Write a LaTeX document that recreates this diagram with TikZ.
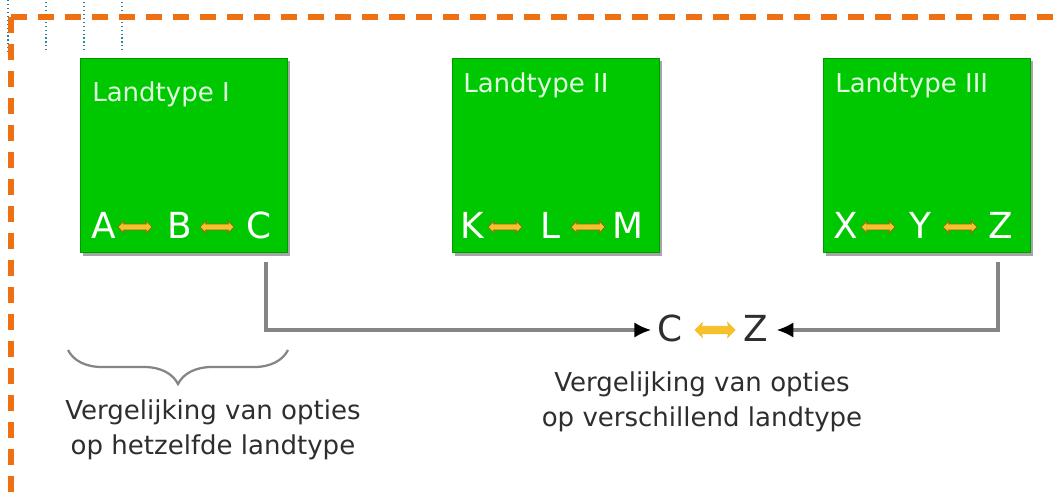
\documentclass[tikz,border=0pt]{standalone}
\usepackage{fontspec}
\setmainfont{DejaVu Sans}
\usetikzlibrary{shapes.arrows,decorations.pathreplacing,calc,arrows.meta}

\definecolor{landgreen}{HTML}{00C800}
\definecolor{landedge}{HTML}{009A00}
\definecolor{frameorange}{HTML}{EE7013}
\definecolor{guideteal}{HTML}{2A8394}
\definecolor{swapfill}{HTML}{F6C22C}
\definecolor{swapedge}{HTML}{8A6A12}
\definecolor{linkgray}{HTML}{858585}
\definecolor{inkgray}{HTML}{2E2E2E}

\tikzset{
  landbox/.style={draw=landedge, line width=0.7pt, fill=landgreen,
    minimum width=5.175cm, minimum height=4.85cm, inner sep=0pt},
  landshadow/.style={fill=black!35},
  boxtitle/.style={text=white!88!green, font=\fontsize{18.5}{20}\selectfont, inner sep=0pt},
  option/.style={text=white, font=\fontsize{25.5}{27}\selectfont, inner sep=0pt},
  bigoption/.style={text=inkgray, font=\fontsize{25.5}{27}\selectfont, inner sep=0pt},
  swap/.style={shape=double arrow, fill=swapfill, draw=swapedge, line width=0.5pt,
    minimum height=0.85cm, double arrow head extend=0.085cm,
    double arrow head indent=0.02cm,
    inner xsep=0pt, inner ysep=0.065cm},
  bigswap/.style={swap, minimum height=1.0cm, double arrow head extend=0.09cm,
    inner ysep=0.085cm, draw=swapfill!85!orange},
  link/.style={draw=linkgray, line width=2.2pt, -{Latex[length=12pt,width=11pt,black]}},
  caption/.style={text=inkgray, align=center, font=\fontsize{18.5}{24.9}\selectfont, inner sep=0pt},
  frame/.style={draw=frameorange, line width=3.6pt, dash pattern=on 11.4pt off 7.8pt},
  guide/.style={draw=guideteal, line width=0.8pt, dotted},
}

\begin{document}
\begin{tikzpicture}[x=0.025cm, y=-0.025cm]
  \useasboundingbox (0,0) rectangle (1059,494);

  % dotted guide lines at the top left
  \draw[guide] (8,0) -- (8,52);
  \foreach \gx in {46,84,122} \draw[guide] (\gx,2) -- (\gx,50);

  % orange dashed frame
  \draw[frame] (11,17) -- (1070,17);
  \draw[frame] (11,17) -- (11,500);

  % shadows of the land boxes
  \foreach \bx in {80,452,823}
    \fill[landshadow] (\bx+3,61) rectangle (\bx+210,256);

  % the three land boxes
  \node[landbox, anchor=north west] (b1) at (80,58) {};
  \node[landbox, anchor=north west] (b2) at (452,58) {};
  \node[landbox, anchor=north west] (b3) at (823,58) {};

  \node[boxtitle, anchor=base west] (t1) at (92,101) {Landtype I};
  \node[boxtitle, anchor=base west] (t2) at (463,92) {Landtype II};
  \node[boxtitle, anchor=base west] (t3) at (835,92) {Landtype III};

  % options inside each box
  \node[option, anchor=base] (oA) at (104,238) {A};
  \node[swap] (sAB) at (135,227) {};
  \node[option, anchor=base] (oB) at (180,238) {B};
  \node[swap] (sBC) at (217,227) {};
  \node[option, anchor=base] (oC) at (259,238) {C};

  \node[option, anchor=base] (oK) at (472,238) {K};
  \node[swap] (sKL) at (505,227) {};
  \node[option, anchor=base] (oL) at (550,238) {L};
  \node[swap] (sLM) at (588,227) {};
  \node[option, anchor=base] (oM) at (628,238) {M};

  \node[option, anchor=base] (oX) at (846,238) {X};
  \node[swap] (sXY) at (878,227) {};
  \node[option, anchor=base] (oY) at (920,238) {Y};
  \node[swap] (sYZ) at (960,227) {};
  \node[option, anchor=base] (oZ) at (1001,238) {Z};

  % comparison across land types
  \node[bigoption, anchor=base] (cC) at (670,341) {C};
  \node[bigswap] (cCZ) at (715,330) {};
  \node[bigoption, anchor=base] (cZ) at (756,341) {Z};

  \coordinate (d1) at (266,262);
  \coordinate (d3) at (998,262);
  \draw[link] (d1) |- ([xshift=-0.15cm]cC.west |- cCZ.center);
  \draw[link] (d3) |- ([xshift=0.2cm]cZ.east |- cCZ.center);

  % brace over the options of one land type
  \coordinate (br1) at (68,350);
  \coordinate (br2) at (288,350);
  \draw[linkgray, line width=1.6pt, decorate,
        decoration={brace, mirror, amplitude=0.85cm, aspect=0.5}] (br1) -- (br2);

  \node[caption] (cap1) at (213,430) {Vergelijking van opties\\op hetzelfde landtype};
  \node[caption] (cap2) at (702,402) {Vergelijking van opties\\op verschillend landtype};
\end{tikzpicture}
\end{document}
